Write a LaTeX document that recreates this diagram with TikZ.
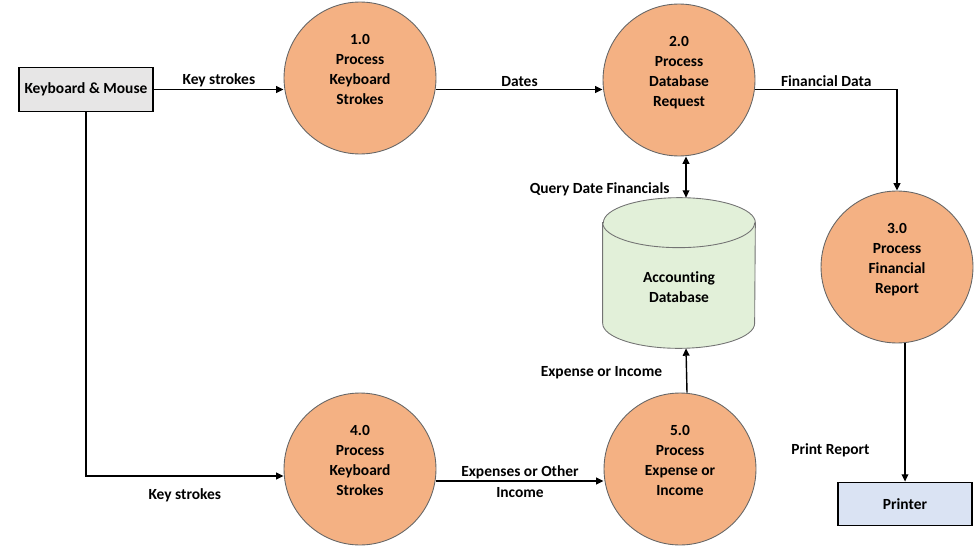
\documentclass[tikz,border=0pt]{standalone}
\usepackage{fontspec}
\setmainfont{Carlito}[Ligatures=NoCommon]
\usetikzlibrary{shapes, arrows.meta, positioning, calc, backgrounds}

\definecolor{procfill}{HTML}{F4B183}
\definecolor{dbfill}{HTML}{E2F0D9}
\definecolor{kbfill}{HTML}{E7E6E6}
\definecolor{prnfill}{HTML}{DAE3F3}

\begin{document}
\begin{tikzpicture}[
    x=0.02cm, y=-0.02cm,
    >={Triangle[length=4.2pt, width=3.8pt]},
    every node/.style={font=\bfseries\fontsize{8.8}{11.4}\selectfont},
    proc/.style={circle, draw=black!60, line width=0.5pt, fill=procfill, minimum size=3.04cm, align=center, text depth=10pt},
    extbox/.style={rectangle, draw, line width=1pt, minimum width=2.64cm, minimum height=0.88cm, align=center},
    store/.style={rectangle, minimum width=3.04cm, minimum height=3.0cm, align=center, text height=34pt},
    flow/.style={->, line width=0.8pt},
    lbl/.style={inner sep=1pt}
]
    \useasboundingbox (0,0) rectangle (976,547);

    \node[extbox, fill=kbfill] (kb) at (86,89.5) {Keyboard \& Mouse};
    \node[proc] (p1) at (360,78) {1.0\\Process\\Keyboard\\Strokes};
    \node[proc] (p2) at (679,80) {2.0\\Process\\Database\\Request};
    \node[proc] (p3) at (897,267) {3.0\\Process\\Financial\\Report};
    \node[proc] (p4) at (360,469) {4.0\\Process\\Keyboard\\Strokes};
    \node[proc] (p5) at (680,469) {5.0\\Process\\Expense or\\Income};
    \node[store] (db) at (679,273) {Accounting\\Database};
    \node[extbox, fill=prnfill, minimum width=2.68cm, minimum height=0.86cm] (prn) at (905,504) {Printer};

    % database drum
    \begin{scope}[on background layer]
        \draw[draw=black!55, line width=0.5pt, fill=dbfill]
            ([yshift=-0.5cm]db.north west) -- ([yshift=0.5cm]db.south west)
            arc[start angle=180, end angle=360, x radius=1.52cm, y radius=0.5cm]
            -- ([yshift=-0.5cm]db.north east)
            arc[start angle=0, end angle=180, x radius=1.52cm, y radius=0.5cm] -- cycle;
        \draw[draw=black!55, line width=0.5pt] ([yshift=-0.5cm]db.north west)
            arc[start angle=180, end angle=360, x radius=1.52cm, y radius=0.5cm];
    \end{scope}

    \draw[flow] (kb.east) -- (kb.east -| p1.west) node[lbl, midway, above] {Key strokes};
    \draw[flow] (p1.east |- kb.east) -- (p2.west |- kb.east) node[lbl, midway, above] {Dates};
    \draw[flow] (p2.east |- kb.east) -| (p3.north) node[lbl, pos=0.25, above] {Financial Data};
    \draw[flow, <->] ([xshift=0.14cm]p2.south) -- ([xshift=0.14cm]db.north)
        node[lbl, pos=0.8, left=0.28cm] {Query Date Financials};
    \draw[flow] ([xshift=0.14cm]p5.north) -- ([xshift=0.14cm]db.south)
        node[lbl, pos=0.45, left=0.44cm] {Expense or Income};
    \draw[flow] (kb.south) |- ([yshift=-0.14cm]p4.west) node[lbl, pos=0.75, below=0.2cm] {Key strokes};
    \draw[flow] ([yshift=-0.24cm]p4.east) -- ([yshift=-0.24cm]p5.west)
        node[lbl, midway, above] {Expenses or Other} node[lbl, midway, below=0.08cm] {Income};
    \draw[flow] (prn.north |- p3.south) -- (prn.north) node[lbl, pos=0.77, left=0.66cm] {Print Report};
\end{tikzpicture}
\end{document}
